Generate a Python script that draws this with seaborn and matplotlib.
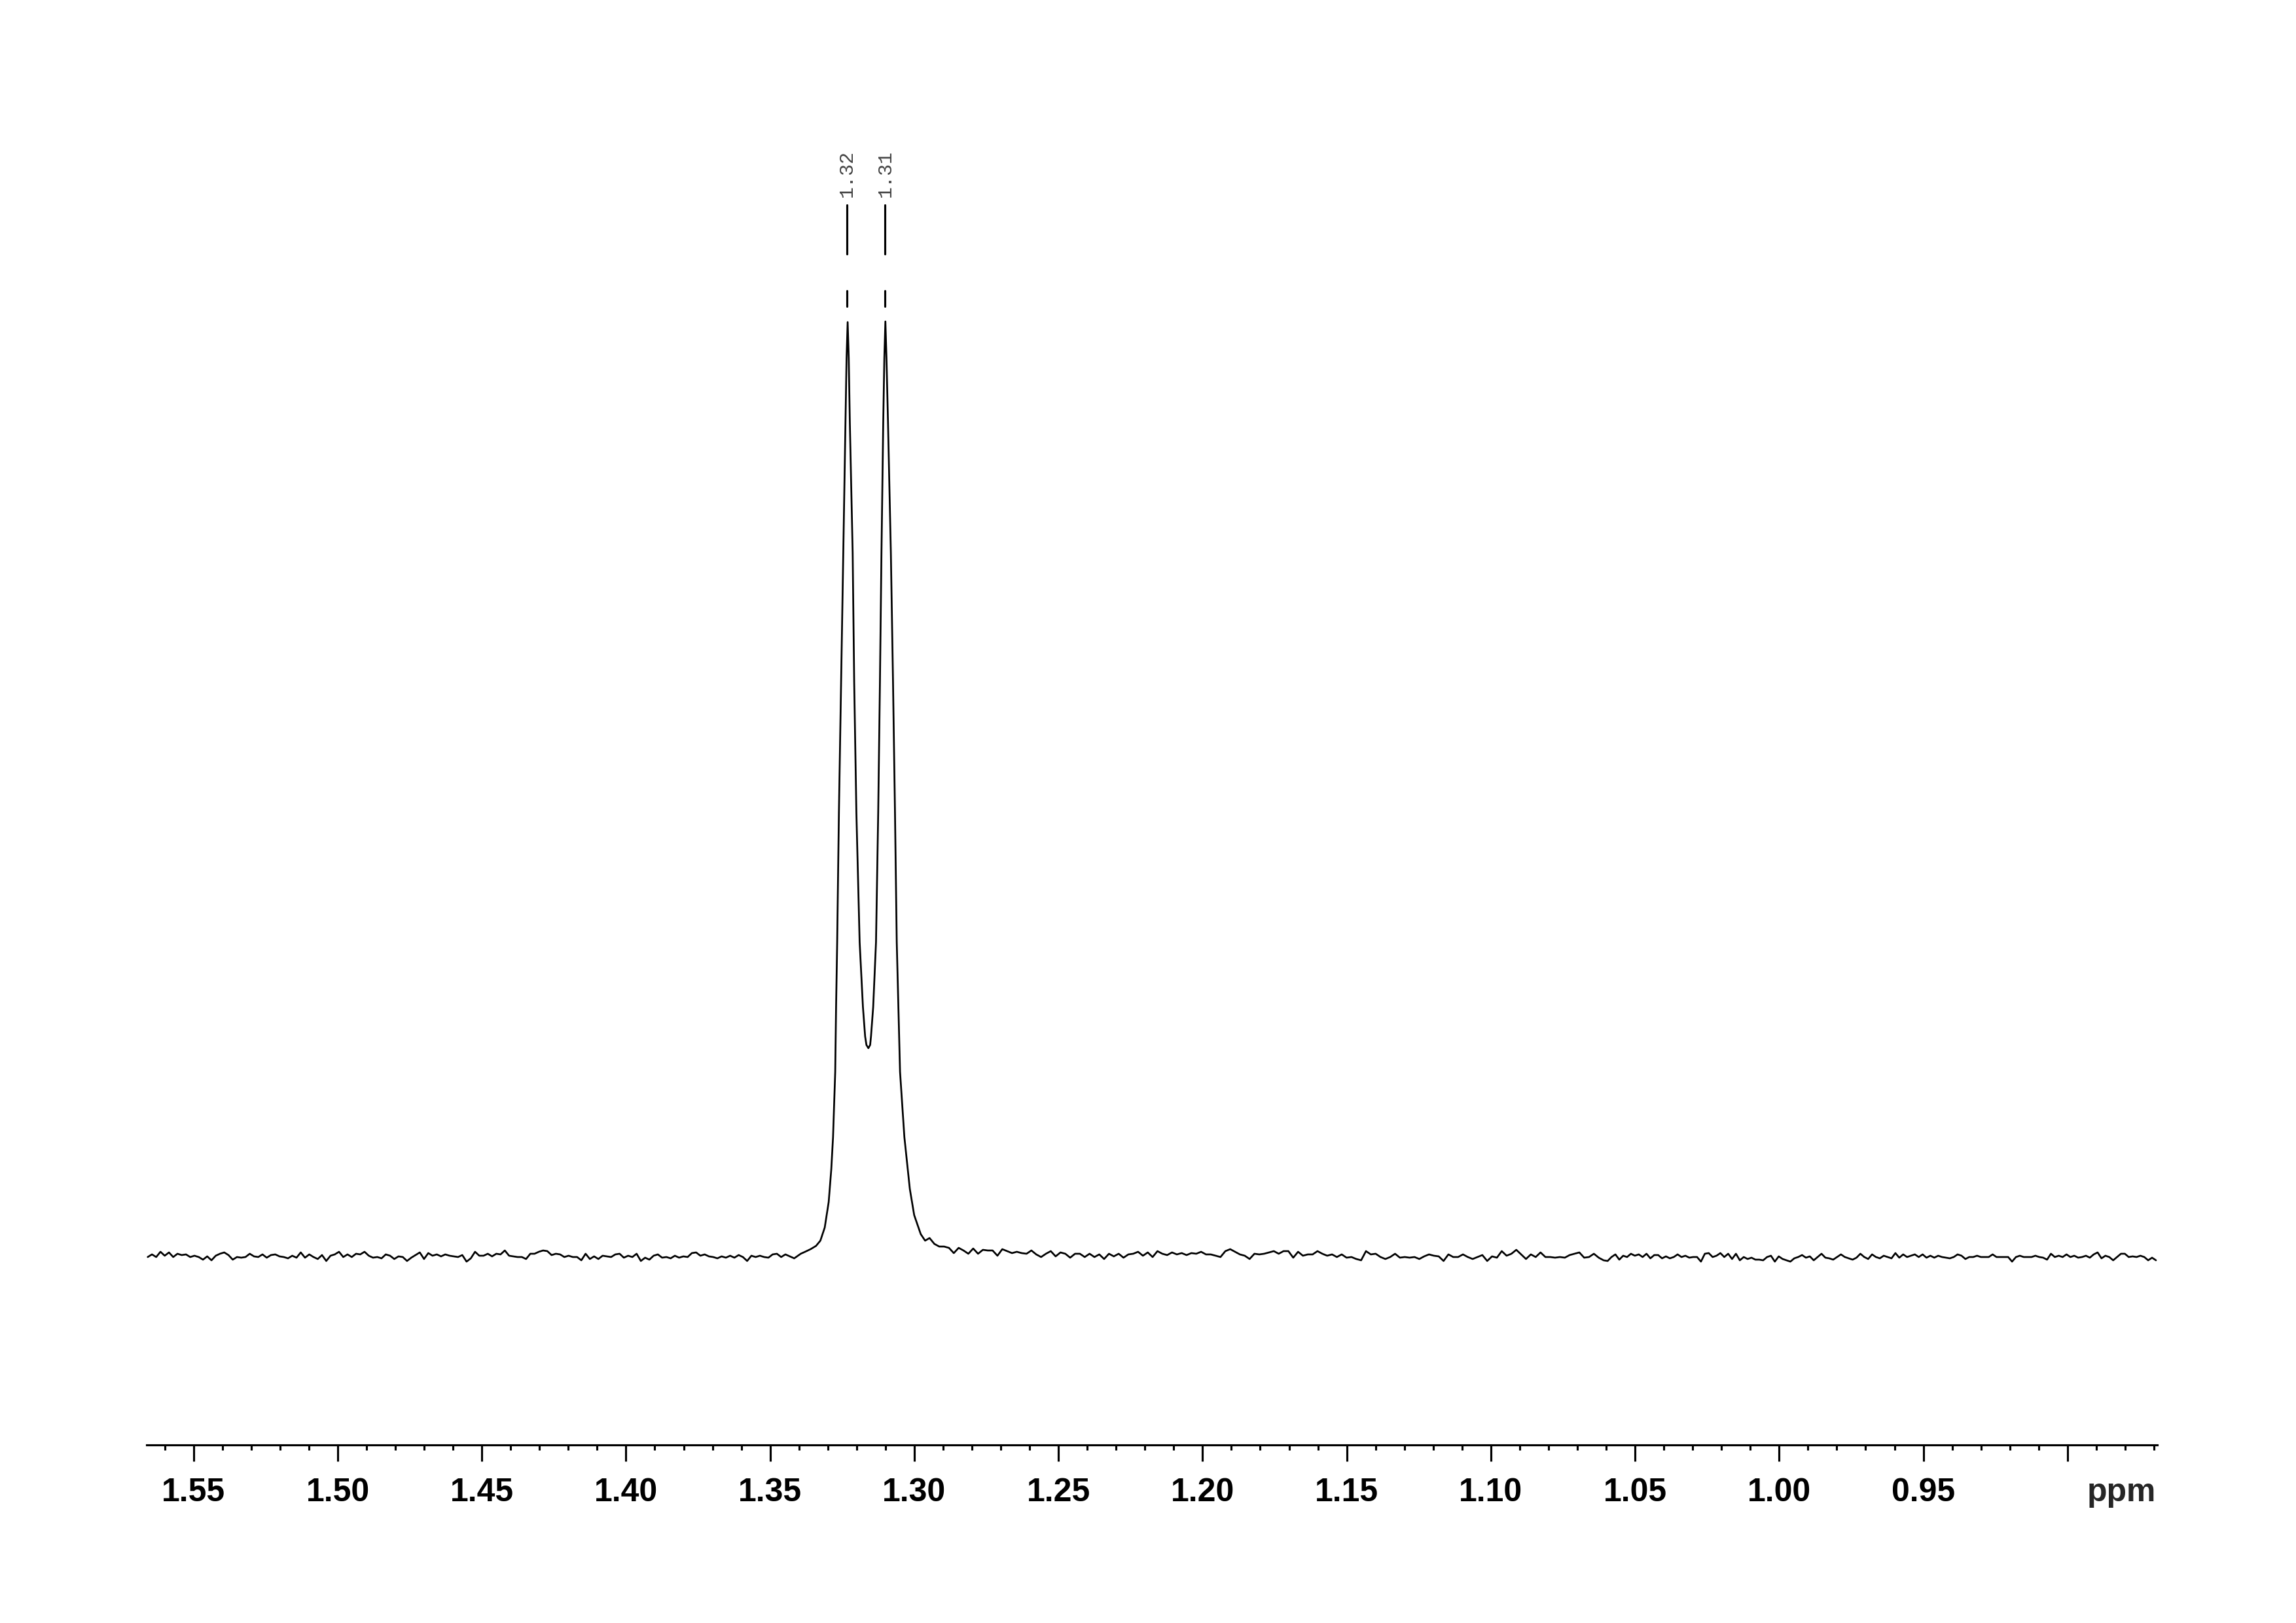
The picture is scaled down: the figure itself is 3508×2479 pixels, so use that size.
import numpy as np
import pandas as pd
import matplotlib
matplotlib.use("Agg")
import matplotlib.pyplot as plt
import seaborn as sns

# 1H NMR spectrum, doublet at 1.32 / 1.31 ppm (intensity in arbitrary units)

# baseline left of the signal
left_noise = [-2, 2, -2, 6, 0, 5, -2, 3, 1, 2, -2, 0, -2, -6, -1, -7, 0, 3, 5, 1, -6, -2, -3, -2, 3,
              -1, -2, 2, -3, 1, 2, -1, -2, -4, 0, -3, 5, -3, 2, -2, -5, 1, -8, 0, 2, 6, -2, 2, -2, 3,
              2, 6, 0, -3, -2, -4, 2, 0, -5, -1, -2, -8, -3, 1, 5, -5, 4, 0, 2, -1, 2, 0, -1, -2, 1,
              -9, -4, 6, 0, 0, 3, -1, 3, 2, 8, 0, -1, -2, -2, -5, 3, 3, 6, 8, 7, 1, 3, 2, -2, 0,
              -2, -2, -7, 3, -5, -1, -5, 0, -1, -2, 2, 3, -3, 0, -2, 3, -8, -3, -6, 0, 2, -3, -2, -4, 0,
              -3, -1, -2, 4, 5, 0, 2, -1, -2, -4, -1, -3, 0, -3, 1, -2, -8, 0, -2, 0, -2, -3, 2, 3, -2, 2]
left_start, left_end = 1.5659, 1.3447

# the doublet itself
peak_ppm = [1.34165, 1.33938, 1.33787, 1.33597, 1.33408, 1.33257, 1.33106, 1.32969, 1.32879, 1.32818,
            1.32742, 1.32712, 1.32674, 1.32614, 1.32538, 1.32462, 1.32387, 1.32349, 1.32311, 1.32273,
            1.32235, 1.32137, 1.32084, 1.32008, 1.31895, 1.31781, 1.31705, 1.31660, 1.31592, 1.31530,
            1.31501, 1.31425, 1.31327, 1.31251, 1.31191, 1.31138, 1.31077, 1.31039, 1.31002, 1.30964,
            1.30911, 1.30812, 1.30737, 1.30669, 1.30608, 1.30494, 1.30343, 1.30154, 1.30003, 1.29776,
            1.29624]
peak_int = [-4, 3, 6, 10, 15, 23, 43, 82, 132, 181,
            281, 380, 479, 677, 876, 1074, 1272, 1371, 1426, 1371,
            1272, 1074, 876, 677, 479, 380, 335, 322, 317, 322,
            335, 380, 479, 677, 876, 1074, 1272, 1371, 1427, 1371,
            1272, 1074, 876, 677, 479, 281, 181, 102, 62, 33,
            23]

# tail and baseline right of the signal
right_noise = [27, 18, 14, 14, 12, 4, 12, 8, 3, 11, 3, 9, 8, 8, 0, 10, 7, 4, 6, 4, 3, 8, 2, -2, 3,
               7, -1, 5, 3, -3, 3, 3, -2, 3, -2, 2, -5, 3, -1, 3, -3, 2, 3, 6, 0, 5, -2, 7, 3, 1,
               5, 2, 4, 1, 4, 3, 6, 2, 2, 0, -2, 7, 10, 6, 2, 0, -5, 3, 2, 3, 5, 7, 3, 7, 7,
               -3, 6, 0, 2, 2, 7, 3, 0, 2, -2, 2, -3, -2, -5, -7, 7, 2, 3, -2, -5, -2, 3, -3, -2, -3,
               -2, -5, -1, 2, 0, -1, -8, 2, -2, -2, 2, -2, -5, -2, 1, -8, -1, -3, 7, 0, 3, 9, 2, -5, 2,
               -2, 5, -2, -2, -3, -2, -3, 1, 3, 5, -3, -2, 3, -3, -7]
right_start, right_end = 1.2947, 1.0609

far_noise = [-8, -2, 2, -6, 0, -2, 3, 0, 2, -2, 3, -4, 1, 1, -4, -1, -4, -2, 2, -2, 0, -3, -2, -2, -9,
             3, 4, -2, 0, 4, -2, 3, -5, 3, -7, -2, -5, -3, -6, -6, -7, -2, 0, -9, -1, -5, -7, -9, -4, -2,
             1, -3, -1, -7, -2, 3, -3, -4, -6, -2, 2, -2, -4, -6, -3, 3, -2, -5, 2, -2, -4, 0, -2, -4, 4,
             -3, 2, -2, 0, 2, -2, 2, -3, 0, -3, 0, -2, -3, -4, -2, 2, 0, -5, -2, -2, 0, -2, -2, -2, 2,
             -2, -2, -2, -2, -9, -2, 0, -2, -2, -2, 0, -2, -3, -6, 3, -2, 0, -2, 2, -2, 0, -3, -2, 0, -3,
             2, 5, -4, 0, -2, -7, -2, 3, 3, -2, -1, -2, 0, -2, -7, -3, -7]
far_start, far_end = 1.0595, 0.8693

peak_labels = ["1.32", "1.31"]
peak_label_ppm = [1.3233, 1.3101]

major_ticks = [1.55, 1.50, 1.45, 1.40, 1.35, 1.30, 1.25, 1.20, 1.15, 1.10, 1.05, 1.00, 0.95, 0.90]
major_labels = ["1.55", "1.50", "1.45", "1.40", "1.35", "1.30", "1.25", "1.20", "1.15", "1.10",
                "1.05", "1.00", "0.95", ""]
minor_ticks = np.round(np.arange(0.87, 1.565, 0.01), 2)

ppm = np.concatenate([np.linspace(left_start, left_end, len(left_noise)), peak_ppm,
                      np.linspace(right_start, right_end, len(right_noise)),
                      np.linspace(far_start, far_end, len(far_noise))])
intensity = np.concatenate([left_noise, peak_int, right_noise, far_noise])
df = pd.DataFrame({"ppm": ppm, "intensity": intensity})

sns.set_style("ticks")
plt.rcParams['font.family'] = ['Liberation Sans', 'DejaVu Sans']

fig = plt.figure(figsize=(3508 / 300, 2479 / 300), dpi=300)
ax = fig.add_axes([224 / 3508, 272 / 2479, 3072 / 3508, 2057 / 2479])

sns.lineplot(data=df, x="ppm", y="intensity", ax=ax, color="black", lw=0.65,
             estimator=None, sort=False)

ax.set_xlim(1.56628, 0.86885)
ax.set_ylim(-289, 1768)

sns.despine(ax=ax, left=True)
ax.spines['bottom'].set_linewidth(0.75)
ax.spines['bottom'].set_color('black')
ax.set_yticks([])
ax.set_xlabel('')
ax.set_ylabel('')

ax.set_xticks(major_ticks)
ax.set_xticklabels(major_labels, fontweight='bold', fontsize=12)
ax.set_xticks(minor_ticks, minor=True)
ax.tick_params(axis='x', which='major', length=6, width=0.75, pad=6, colors='black', direction='out')
ax.tick_params(axis='x', which='minor', length=2, width=0.75, colors='black', direction='out')

ax.annotate("ppm", xy=(0.86885, 0), xycoords=('data', 'axes fraction'), xytext=(-0.5, -12),
            textcoords='offset points', ha='right', va='top', fontweight='bold', fontsize=12)

# peak picking marks
pk = max(peak_int)
for p, t in zip(peak_label_ppm, peak_labels):
    ax.plot([p, p], [pk + 23, pk + 47], color='black', lw=0.75)
    ax.plot([p, p], [pk + 103, pk + 178], color='black', lw=0.75)
    ax.text(p, pk + 190, t, rotation=90, ha='center', va='bottom',
            family=['Liberation Mono', 'DejaVu Sans Mono'], fontsize=7.2, color='#444444')

fig.savefig('out.png', dpi=300)
